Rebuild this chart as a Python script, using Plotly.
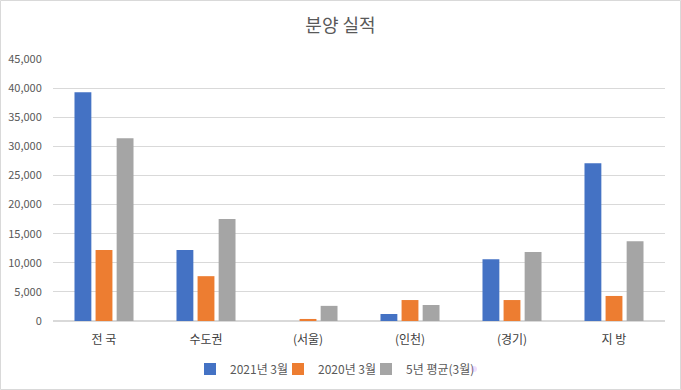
import plotly.graph_objects as go

categories = ["전 국", "수도권", "(서울)", "(인천)", "(경기)", "지 방"]
series_names = ["2021년 3월", "2020년 3월", "5년 평균(3월)"]
v2021 = [39300, 12200, 0, 1200, 10600, 27100]
v2020 = [12200, 7700, 350, 3600, 3600, 4300]
v5yr = [31400, 17500, 2600, 2750, 11850, 13700]
colors = ["#4472C4", "#ED7D31", "#A5A5A5"]
tick_vals = [0, 5000, 10000, 15000, 20000, 25000, 30000, 35000, 40000, 45000]
tick_text = ["0", "5,000", "10,000", "15,000", "20,000", "25,000", "30,000", "35,000", "40,000", "45,000"]

font = "Noto Sans CJK KR"
fig = go.Figure()
for name, vals, c in zip(series_names, [v2021, v2020, v5yr], colors):
    fig.add_trace(go.Bar(x=categories, y=vals, name=name, marker_color=c, marker_line_width=0))
# invisible spacer legend entry so the last label is not clipped
fig.add_trace(go.Scatter(x=[None], y=[None], mode="markers", name=" ",
                         marker=dict(opacity=0), hoverinfo="skip"))

fig.update_layout(
    width=681, height=390,
    margin=dict(l=53, r=16, t=59, b=69),
    paper_bgcolor="white", plot_bgcolor="white",
    barmode="group", bargap=0.38, bargroupgap=0.2,
    font=dict(family=font, size=11, color="#595959"),
    title=dict(text="분양 실적", x=0.5, xanchor="center", y=0.935, yanchor="middle",
               font=dict(family=font, size=18, color="#595959")),
    legend=dict(orientation="h", xref="container", x=190/681, xanchor="left",
                yref="container", y=21/390, yanchor="middle",
                font=dict(family=font, size=12, color="#595959"),
                traceorder="normal", itemwidth=30, entrywidth=43, entrywidthmode="pixels",
                bgcolor="rgba(0,0,0,0)"),
    showlegend=True,
)
fig.update_yaxes(range=[0, 45000], tickvals=tick_vals, ticktext=tick_text,
                 gridcolor="#D9D9D9", gridwidth=1, zeroline=True, zerolinecolor="#D9D9D9",
                 showline=False, ticks="outside", ticklen=8, tickcolor="white",
                 tickfont=dict(size=11, color="#595959"), automargin=False)
fig.update_xaxes(showline=False, ticks="outside", ticklen=8, tickcolor="white",
                 tickfont=dict(size=12, color="#404040"), automargin=False)
fig.add_shape(type="rect", xref="paper", yref="paper", x0=-52.5/612, x1=1+15.5/612,
              y0=-68.5/262, y1=1+58.5/262, line=dict(color="#D9D9D9", width=1))
fig.write_html("out.html", post_script="document.body.style.margin='0';",
               config={"displayModeBar": False})
